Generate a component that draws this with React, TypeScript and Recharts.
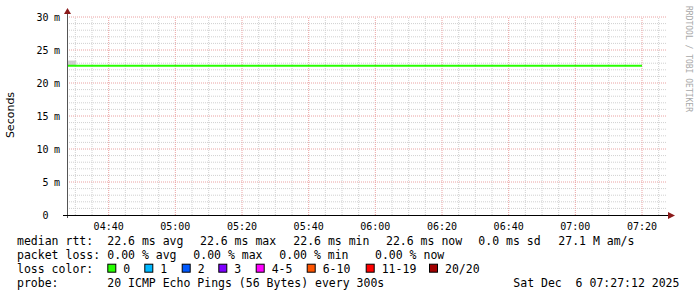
import React from 'react';
import { ComposedChart, Line, Area, XAxis, YAxis, ReferenceLine } from 'recharts';

// time in minutes since midnight
const times = [267.5, 270.3, 440];
const medianRtt = [22.6, 22.6, 22.6];
const smokeLow: (number | null)[] = [22.6, 22.6, null];
const smokeHigh: (number | null)[] = [23.4, 23.4, null];

const timeTicks = [280, 300, 320, 340, 360, 380, 400, 420, 440];
const timeLabels = ['04:40', '05:00', '05:20', '05:40', '06:00', '06:20', '06:40', '07:00', '07:20'];
const yTicks = [0, 5, 10, 15, 20, 25, 30];
const yNumbers = ['0', '5', '10', '15', '20', '25', '30'];
const yUnits = ['', 'm', 'm', 'm', 'm', 'm', 'm'];

const medianStats = ['median rtt:', '22.6 ms avg', '22.6 ms max', '22.6 ms min', '22.6 ms now', '0.0 ms sd', '27.1 M am/s'];
const lossStats = ['packet loss:', '0.00 % avg', '0.00 % max', '0.00 % min', '0.00 % now'];
const lossLabels = ['0', '1', '2', '3', '4-5', '6-10', '11-19', '20/20'];
const lossColors = ['#26ff00', '#00b8ff', '#0059ff', '#7e00ff', '#ff00ff', '#ff5500', '#ff0000', '#a10000'];
const probeText = '20 ICMP Echo Pings (56 Bytes) every 300s';
const dateText = 'Sat Dec  6 07:27:12 2025';

const data = times.map((t, i) => ({
  t,
  median: medianRtt[i],
  smoke: smokeLow[i] == null ? null : [smokeLow[i], smokeHigh[i]],
}));

const minorTimes: number[] = [];
for (let m = 270; m <= 445; m += 5) if (!timeTicks.includes(m)) minorTimes.push(m);
const minorY: number[] = [];
for (let v = 1; v < 30; v++) if (v % 5 !== 0) minorY.push(v);
const majorY = yTicks.filter((v) => v > 0);

const MONO = '"DejaVu Sans Mono", monospace';

const XTick = (props: any) => {
  const { x, y, payload } = props;
  const idx = timeTicks.indexOf(payload.value);
  return (
    <text x={x} y={y + 9} textAnchor="middle" dominantBaseline="central" fontFamily={MONO} fontSize={10} fill="#000">
      {timeLabels[idx]}
    </text>
  );
};

const YTick = (props: any) => {
  const { y, payload } = props;
  const idx = yTicks.indexOf(payload.value);
  return (
    <g>
      <text x={48.5} y={y} textAnchor="end" dominantBaseline="central" fontFamily={MONO} fontSize={10} fill="#000">
        {yNumbers[idx]}
      </text>
      {yUnits[idx] && (
        <text x={54} y={y} textAnchor="start" dominantBaseline="central" fontFamily={MONO} fontSize={10} fill="#000">
          {yUnits[idx]}
        </text>
      )}
    </g>
  );
};

const row1X = [17, 107.3, 200, 293.3, 386, 478.3, 558.3];
const row2X = [17, 107.3, 193.3, 279.3, 375];
const boxX = [107.3, 144.3, 181.7, 218.3, 255.7, 306.7, 365.7, 429];
const rowY = [241.3, 255, 268.7, 282.5];

export default function App() {
  const txt = (s: string, x: number, y: number, key?: any) => (
    <text key={key} x={x} y={y} dominantBaseline="central" fontFamily={MONO} fontSize={11.5} fill="#000" style={{ whiteSpace: 'pre' }}>
      {s}
    </text>
  );
  return (
    <div style={{ position: 'absolute', left: 0, top: 0, width: 697, height: 297, background: '#fff' }}>
      <ComposedChart width={697} height={297} data={data} margin={{ top: 17, right: 30, bottom: 62, left: 7 }}>
        <XAxis
          dataKey="t"
          type="number"
          domain={[267.5, 447.5]}
          ticks={timeTicks}
          tick={<XTick />}
          tickLine={false}
          tickSize={0}
          height={20}
          axisLine={false}
          allowDataOverflow
        />
        <YAxis
          type="number"
          domain={[0, 30]}
          ticks={yTicks}
          tick={<YTick />}
          tickLine={false}
          width={60}
          axisLine={false}
          allowDataOverflow
        />
        {minorY.map((v) => (
          <ReferenceLine key={'hy' + v} y={v} stroke="#d0d0d0" strokeDasharray="1 1" />
        ))}
        {minorTimes.map((v) => (
          <ReferenceLine key={'vx' + v} x={v} stroke="#d0d0d0" strokeDasharray="1 1" />
        ))}
        {majorY.map((v) => (
          <ReferenceLine key={'My' + v} y={v} stroke="#eaa2a2" strokeDasharray="1 1" />
        ))}
        {timeTicks.map((v) => (
          <ReferenceLine key={'Mx' + v} x={v} stroke="#eaa2a2" strokeDasharray="1 1" />
        ))}
        <Area
          dataKey="smoke"
          stroke="none"
          fill="#cccccc"
          fillOpacity={1}
          isAnimationActive={false}
          connectNulls={false}
          dot={false}
          activeDot={false}
        />
        <Line
          dataKey="median"
          stroke="#26ff00"
          strokeWidth={2}
          dot={false}
          activeDot={false}
          isAnimationActive={false}
        />
      </ComposedChart>
      <svg width={697} height={297} style={{ position: 'absolute', left: 0, top: 0, pointerEvents: 'none' }}>
        {/* axes */}
        <line x1={67.5} y1={12} x2={67.5} y2={218} stroke="#555" strokeWidth={1} />
        <line x1={63} y1={215.5} x2={669} y2={215.5} stroke="#000" strokeWidth={1} />
        <polygon points="64,14 71,14 67.5,8" fill="#8b1a1a" />
        <polygon points="668,212 668,219 675,215.5" fill="#8b1a1a" />
        {/* y label */}
        <text
          x={10}
          y={115}
          transform="rotate(-90 10 115)"
          textAnchor="middle"
          dominantBaseline="central"
          fontFamily='"DejaVu Sans", sans-serif'
          fontSize={11}
          fill="#000"
        >
          Seconds
        </text>
        {/* watermark */}
        <text
          x={688}
          y={6}
          transform="rotate(90 688 6)"
          textAnchor="start"
          dominantBaseline="central"
          fontFamily={MONO}
          fontSize={8}
          fill="#a8a8a8"
        >
          RRDTOOL / TOBI OETIKER
        </text>
        {/* legend */}
        {medianStats.map((s, i) => txt(s, row1X[i], rowY[0], 'r1' + i))}
        {lossStats.map((s, i) => txt(s, row2X[i], rowY[1], 'r2' + i))}
        {txt('loss color:', 17, rowY[2])}
        {lossLabels.map((s, i) => (
          <g key={'lc' + i}>
            <rect x={boxX[i] + 0.5} y={rowY[2] - 4.5} width={8} height={8} fill={lossColors[i]} stroke="#000" strokeWidth={1} />
            {txt(s, boxX[i] + 16, rowY[2])}
          </g>
        ))}
        {txt('probe:', 17, rowY[3])}
        {txt(probeText, 107.3, rowY[3])}
        {txt(dateText, 513.3, rowY[3])}
      </svg>
    </div>
  );
}
